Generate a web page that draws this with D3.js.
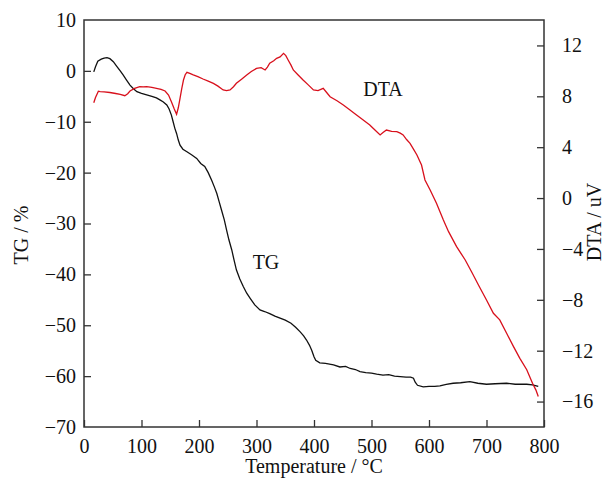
<!DOCTYPE html>
<html><head><meta charset="utf-8">
<script src="https://cdn.jsdelivr.net/npm/d3@7/dist/d3.min.js"></script>
<style>body{margin:0;background:#fff}svg{display:block}</style>
</head><body>
<script>
// Data
const tgTemp = [17,20,24,30,35,40,45,51,57,63,68,74,80,86,92,100,109,118,126,132,138,144,148,152,155,158,161,164,167,172,179,187,196,203,210,216,222,227,231,235,239,244,248,252,257,261,265,271,277,283,289,297,306,314,323,332,341,350,360,368,376,382,387,392,396,400,403,410,420,434,445,455,463,472,480,490,500,509,520,530,540,550,560,568,573,576,580,590,600,610,619,630,642,655,671,685,700,715,735,750,770,780,790];
const tgValue = [-0.2,0.8,1.9,2.3,2.5,2.6,2.4,1.8,0.9,0.0,-0.8,-1.8,-2.8,-3.5,-4.1,-4.4,-4.7,-5.0,-5.3,-5.7,-6.1,-6.7,-7.5,-8.7,-10.0,-11.3,-12.3,-13.6,-14.6,-15.4,-15.9,-16.5,-17.2,-18.2,-18.8,-20.0,-21.5,-22.9,-24.1,-25.7,-27.3,-29.3,-31.3,-33.2,-35.2,-37.2,-39.1,-40.9,-42.4,-43.7,-44.7,-46.0,-47.0,-47.3,-47.7,-48.2,-48.6,-49.0,-49.6,-50.4,-51.3,-52.1,-52.9,-53.9,-54.9,-56.2,-56.9,-57.4,-57.5,-57.8,-58.2,-58.1,-58.5,-58.7,-59.1,-59.3,-59.4,-59.6,-59.8,-59.7,-60.0,-60.1,-60.2,-60.2,-60.4,-61.2,-61.8,-62.1,-62.0,-62.0,-61.9,-61.6,-61.4,-61.3,-61.1,-61.4,-61.6,-61.5,-61.4,-61.6,-61.6,-61.7,-62.0];
const dtaTemp = [17,20,25,28,35,45,55,63,71,76,80,88,97,103,109,118,126,134,141,147,152,157,161,164,167,170,173,176,179,184,190,198,207,216,225,233,242,248,254,260,265,274,283,291,300,308,315,319,323,330,335,341,347,351,355,360,364,372,381,390,399,407,416,422,428,440,451,462,474,485,497,506,515,520,526,535,544,550,555,561,567,573,579,587,593,602,613,625,634,648,663,674,686,700,712,723,735,747,758,770,780,786,790];
const dtaValue = [7.5,7.9,8.4,8.37,8.35,8.3,8.22,8.16,8.05,8.2,8.42,8.62,8.76,8.74,8.76,8.7,8.63,8.55,8.42,8.1,7.58,7.0,6.59,7.1,7.84,8.6,9.28,9.7,9.89,9.8,9.68,9.55,9.36,9.2,9.02,8.8,8.5,8.45,8.5,8.75,9.02,9.35,9.68,9.95,10.2,10.25,10.07,10.3,10.6,10.8,10.99,11.1,11.38,11.2,10.86,10.45,10.07,9.7,9.28,8.9,8.5,8.45,8.63,8.3,7.97,7.65,7.32,6.95,6.53,6.15,5.75,5.35,4.96,5.15,5.35,5.25,5.22,5.1,4.96,4.6,4.3,3.85,3.39,2.6,1.42,0.64,-0.41,-1.72,-2.64,-3.82,-4.87,-5.79,-6.83,-8.01,-9.06,-9.58,-10.63,-11.68,-12.6,-13.5,-14.56,-15.1,-15.6];
const xTicks = [0,100,200,300,400,500,600,700,800];
const tgTicks = [10,0,-10,-20,-30,-40,-50,-60,-70];
const dtaTicks = [12,8,4,0,-4,-8,-12,-16];

const W = 606, H = 479;
const L = 84, R = 544, T = 20, B = 427;
const svg = d3.select("body").append("svg").attr("width", W).attr("height", H)
  .style("font-family", "'Liberation Serif','Times New Roman',serif");

const x = d3.scaleLinear().domain([0, 800]).range([L, R]);
const yL = d3.scaleLinear().domain([-70, 10]).range([B, T]);
const yR = d3.scaleLinear().domain([-18, 14]).range([B, T]);
const axisColor = "#333";

function fmt(d){ return d < 0 ? "\u2212" + Math.abs(d) : String(d); }

// x axis
const gx = svg.append("g").attr("transform", `translate(0,${B})`)
  .call(d3.axisBottom(x).tickValues(xTicks).tickSizeInner(-7).tickSizeOuter(0).tickPadding(12).tickFormat(fmt));
// left axis
const gl = svg.append("g").attr("transform", `translate(${L},0)`)
  .call(d3.axisLeft(yL).tickValues(tgTicks.filter(d => d !== 10 && d !== -70)).tickSizeInner(-7).tickSizeOuter(0).tickPadding(15).tickFormat(fmt));
// right axis
const gr = svg.append("g").attr("transform", `translate(${R},0)`)
  .call(d3.axisRight(yR).tickValues(dtaTicks).tickSizeInner(-7).tickSizeOuter(0).tickPadding(18).tickFormat(fmt));

[gx, gl, gr].forEach(g => {
  g.selectAll(".domain").remove();
  g.selectAll("line").attr("stroke", axisColor).attr("stroke-width", 1.3);
  g.selectAll("text").attr("font-size", 20).attr("fill", "#111").style("font-family", "'Liberation Serif',serif");
});
// end labels on left axis (10 and -70) without ticks
svg.append("g").selectAll("text").data([10, -70]).join("text")
  .attr("x", L - 8).attr("y", d => yL(d)).attr("dy", "0.34em")
  .attr("text-anchor", "end").attr("font-size", 20).attr("fill", "#111").text(fmt);
gl.selectAll("text").attr("x", -8);

// frame
svg.append("rect").attr("x", L).attr("y", T).attr("width", R - L).attr("height", B - T)
  .attr("fill", "none").attr("stroke", axisColor).attr("stroke-width", 1.5);

// lines
const tgData = tgTemp.map((t, i) => [t, tgValue[i]]);
const dtaData = dtaTemp.map((t, i) => [t, dtaValue[i]]);
svg.append("path").datum(tgData)
  .attr("d", d3.line().x(d => x(d[0])).y(d => yL(d[1])))
  .attr("fill", "none").attr("stroke", "#111").attr("stroke-width", 1.3);
svg.append("path").datum(dtaData)
  .attr("d", d3.line().x(d => x(d[0])).y(d => yR(d[1])))
  .attr("fill", "none").attr("stroke", "#d8101c").attr("stroke-width", 1.3);

// labels
svg.append("text").attr("x", 383).attr("y", 96).attr("text-anchor", "middle").attr("font-size", 20).attr("fill", "#111").text("DTA");
svg.append("text").attr("x", 266).attr("y", 269).attr("text-anchor", "middle").attr("font-size", 20).attr("fill", "#111").text("TG");

svg.append("text").attr("x", 314).attr("y", 473).attr("text-anchor", "middle").attr("font-size", 20).attr("fill", "#111").text("Temperature / \u00B0C");
svg.append("text").attr("transform", "translate(28,235) rotate(-90)").attr("text-anchor", "middle").attr("font-size", 20).attr("fill", "#111").text("TG / %");
svg.append("text").attr("transform", "translate(601,222) rotate(-90)").attr("text-anchor", "middle").attr("font-size", 20).attr("fill", "#111").text("DTA / uV");
</script>
</body></html>
